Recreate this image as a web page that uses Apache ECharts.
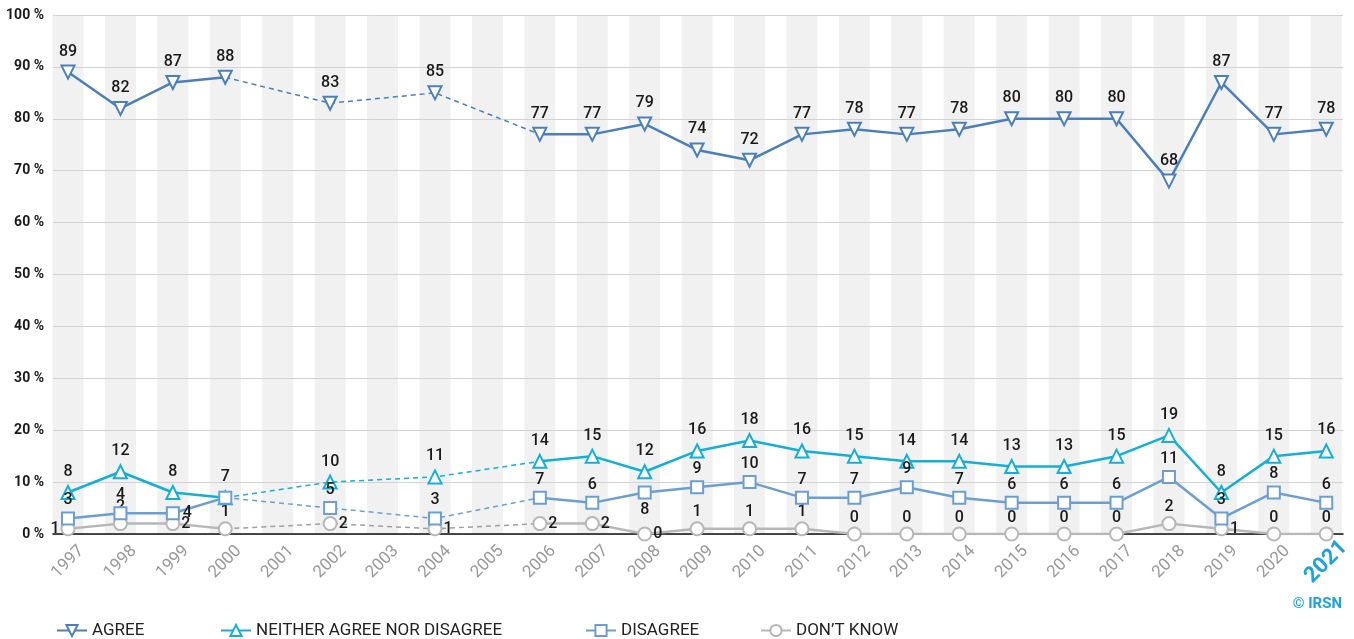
<!DOCTYPE html>
<html>
<head>
<meta charset="utf-8">
<script src="https://cdn.jsdelivr.net/npm/echarts@6/dist/echarts.min.js"></script>
<style>html,body{margin:0;padding:0;background:#fff;}#c{width:1354px;height:639px;}</style>
</head>
<body>
<div id="c"></div>
<script>
const years = ['1997','1998','1999','2000','2001','2002','2003','2004','2005','2006','2007','2008','2009','2010','2011','2012','2013','2014','2015','2016','2017','2018','2019','2020','2021'];
const agree    = [89,82,87,88,null,83,null,85,null,77,77,79,74,72,77,78,77,78,80,80,80,68,87,77,78];
const neither  = [8,12,8,7,null,10,null,11,null,14,15,12,16,18,16,15,14,14,13,13,15,19,8,15,16];
const disagree = [3,4,4,7,null,5,null,3,null,7,6,8,9,10,7,7,9,7,6,6,6,11,3,8,6];
const dontKnow = [1,2,2,1,null,2,null,1,null,2,2,0,1,1,1,0,0,0,0,0,0,2,1,0,0];
const seriesNames = ['AGREE','NEITHER AGREE NOR DISAGREE','DISAGREE','DON\u2019T KNOW'];
const yMin = 0, yMax = 100, yStep = 10;

// label placement tweaks (style only)
const labelOverrides = {
  'DISAGREE': {'1999':{position:'right'}, '2000':{show:false}, '2008':{position:'bottom'}},
  'DON\u2019T KNOW': {'1997':{position:'left'}, '1999':{position:'right'}, '2002':{position:'right'}, '2004':{position:'right'}, '2006':{position:'right'}, '2007':{position:'right'}, '2008':{position:'right'}, '2019':{position:'right'}}
};

const colors = ['#4a7fbb','#14afd6','#6c9fd1','#b7b7b7'];
const dashColors = ['#4a7fbb','#14afd6','#6c9fd1','#a0a0a0'];
const symbols = ['emptyTriangle','emptyTriangle','emptyRect','emptyCircle'];
const rotates = [180,0,0,0];
const sizes = [13,13,12,13];
const labelDist = [5,5,3,1];
const zs = [10,8,9,7];
const legendLefts = [56,220,585,760];
const values = [agree, neither, disagree, dontKnow];

function gapPart(arr){
  let first = arr.indexOf(null), last = arr.lastIndexOf(null);
  return arr.map((v,i)=> (i>=first-1 && i<=last+1) ? v : null);
}

const series = [];
series.push({
  type:'bar', xAxisIndex:1, yAxisIndex:1, data: years.map(()=>yMax), barWidth:31,
  itemStyle:{color:'#f1f1f1'}, silent:true, z:-5, clip:false, animation:false, label:{show:false}
});
values.forEach((arr,k)=>{
  const name = seriesNames[k];
  const ov = labelOverrides[name] || {};
  series.push({
    type:'line', xAxisIndex:1, yAxisIndex:1, name:name,
    data: arr.map((v,i)=> v===null ? null : (ov[years[i]] ? {value:v, label:ov[years[i]]} : v)),
    connectNulls:false, showAllSymbol:true,
    symbol:symbols[k], symbolSize:sizes[k], symbolRotate:rotates[k],
    lineStyle:{color:colors[k], width:2.5},
    itemStyle:{color:colors[k], borderColor:colors[k], borderWidth:2},
    label:{show:true, position:'top', distance:labelDist[k], color:'#1a1a1a', fontSize:16, fontWeight:500, fontFamily:'Roboto'},
    z: zs[k],
    animation:false
  });
  series.push({
    type:'line', xAxisIndex:1, yAxisIndex:1, name:name+' (gap)',
    data: gapPart(arr), connectNulls:true, showSymbol:false,
    lineStyle:{color:dashColors[k], width:1.5, type:[5,4]}, silent:true, z:1, animation:false
  });
});

const legends = seriesNames.map((n,k)=>({
  data:[n], left:legendLefts[k], top:622, padding:0, itemWidth:30, itemHeight:14, itemGap:5,
  textStyle:{color:'#222', fontSize:17, fontFamily:'Roboto', padding:[0,0,0,0]}, selectedMode:false
}));

const chart = echarts.init(document.getElementById('c'));
chart.setOption({
  animation:false,
  grid:[
    {left:53, right:11, top:15, bottom:105},
    {left:68, right:26, top:15, bottom:105}
  ],
  xAxis:[
    {gridIndex:0, type:'value', min:0, max:1, axisLabel:{show:false}, axisTick:{show:false}, splitLine:{show:false},
     axisLine:{show:true, lineStyle:{color:'#111', width:1.5}}},
    {gridIndex:1, type:'category', data:years, boundaryGap:false, axisLine:{show:false}, axisTick:{show:false},
     axisLabel:{rotate:45, margin:28, interval:0, align:'center', verticalAlign:'middle', color:'#999', fontSize:17, fontFamily:'Roboto',
       formatter:(v,i)=> i===years.length-1 ? '{hl|'+v+'}' : v,
       rich:{hl:{color:'#1aa3dc', fontSize:22, fontWeight:'bold', fontFamily:'Roboto'}}}}
  ],
  yAxis:[
    {gridIndex:0, type:'value', min:yMin, max:yMax, interval:yStep,
     axisLine:{show:false}, axisTick:{show:false},
     axisLabel:{formatter:'{value} %', color:'#1a1a1a', fontSize:14, fontWeight:'bold', fontFamily:'Roboto', margin:9},
     splitLine:{lineStyle:{color:'#d2d2d2', width:1}}},
    {gridIndex:1, type:'value', min:yMin, max:yMax, interval:yStep, show:false, splitLine:{show:false}}
  ],
  legend:legends,
  graphic:[{type:'text', right:12, top:597, style:{text:'\u00a9 IRSN', fill:'#1aa3dc', font:'bold 15px Roboto'}}],
  series:series
});
</script>
</body>
</html>
